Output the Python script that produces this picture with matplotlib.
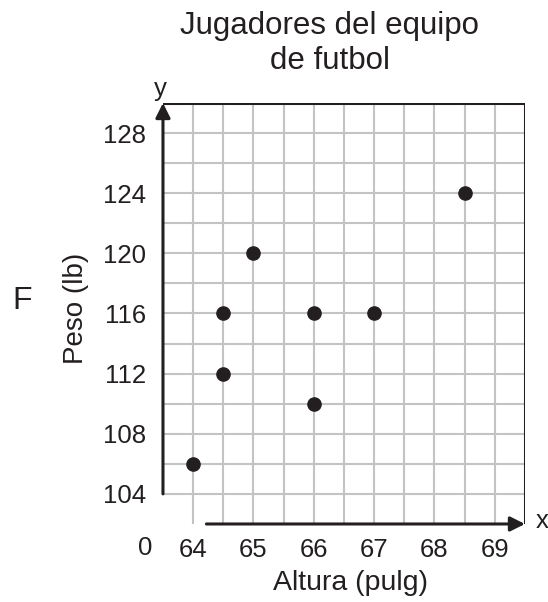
import numpy as np
import matplotlib
matplotlib.use('Agg')
import matplotlib.pyplot as plt

plt.rcParams['font.family'] = ['Liberation Sans', 'DejaVu Sans']

# datos de los jugadores
altura = [64, 64.5, 64.5, 65, 66, 66, 67, 68.5]
peso = [106, 112, 116, 120, 116, 110, 116, 124]

x_ticks = [64, 65, 66, 67, 68, 69]
y_ticks = [104, 108, 112, 116, 120, 124, 128]

ink = '#231f20'
grid_col = '#c3c3c6'

fig = plt.figure(figsize=(5.48, 6.02), dpi=100)
ax = fig.add_axes([0.2974, 0.1296, 0.6606, 0.6993])
ax.set_xlim(63.5, 69.5)
ax.set_ylim(102, 130)
for s in ax.spines.values():
    s.set_visible(False)

# grid
for gx in np.arange(64, 69.5, 0.5):
    ax.plot([gx, gx], [102, 130], color=grid_col, lw=1.5, zorder=1, solid_capstyle='butt')
for gy in range(104, 130, 2):
    ax.plot([63.5, 69.5], [gy, gy], color=grid_col, lw=1.5, zorder=1, solid_capstyle='butt')

# border and axes
ax.plot([63.5, 69.5], [130, 130], color=ink, lw=2.2, zorder=3)
ax.plot([69.5, 69.5], [102, 130], color=ink, lw=2.2, zorder=3)
ax.annotate('', xy=(63.5, 130), xytext=(63.5, 104),
            arrowprops=dict(arrowstyle='-|>', lw=2.2, color=ink, mutation_scale=22,
                            shrinkA=0, shrinkB=0), zorder=4)
ax.annotate('', xy=(69.5, 102), xytext=(64.22, 102),
            arrowprops=dict(arrowstyle='-|>', lw=2.2, color=ink, mutation_scale=22,
                            shrinkA=0, shrinkB=0), zorder=4)

ax.plot(altura, peso, 'o', color=ink, markersize=9.5, zorder=5, clip_on=False)

ax.set_xticks(x_ticks)
ax.set_xticklabels([str(v) for v in x_ticks])
ax.set_yticks(y_ticks)
ax.set_yticklabels([str(v) for v in y_ticks])
ax.tick_params(length=0, labelsize=18.5, colors=ink)
ax.tick_params(axis='x', pad=10)
ax.tick_params(axis='y', pad=12)

ax.text(63.2, 101.2, '0', fontsize=18.5, color=ink, ha='center', va='top')
ax.text(69.78, 102.2, 'x', fontsize=18.5, color=ink, ha='center', va='center')
ax.text(63.45, 130.9, 'y', fontsize=18.5, color=ink, ha='center', va='center')

ax.set_xlabel('Altura (pulg)', fontsize=20.5, color=ink)
ax.set_ylabel('Peso (lb)', fontsize=20, color=ink)
ax.xaxis.set_label_coords(0.517, -0.11)
ax.yaxis.set_label_coords(-0.205, 0.513)

fig.text(0.602, 0.928, 'Jugadores del equipo\nde futbol', fontsize=22.5, color=ink,
         ha='center', va='center', linespacing=1.2)
fig.text(0.04, 0.50, 'F', fontsize=23, color=ink, ha='center', va='center')

fig.savefig('out.png', dpi=100)
